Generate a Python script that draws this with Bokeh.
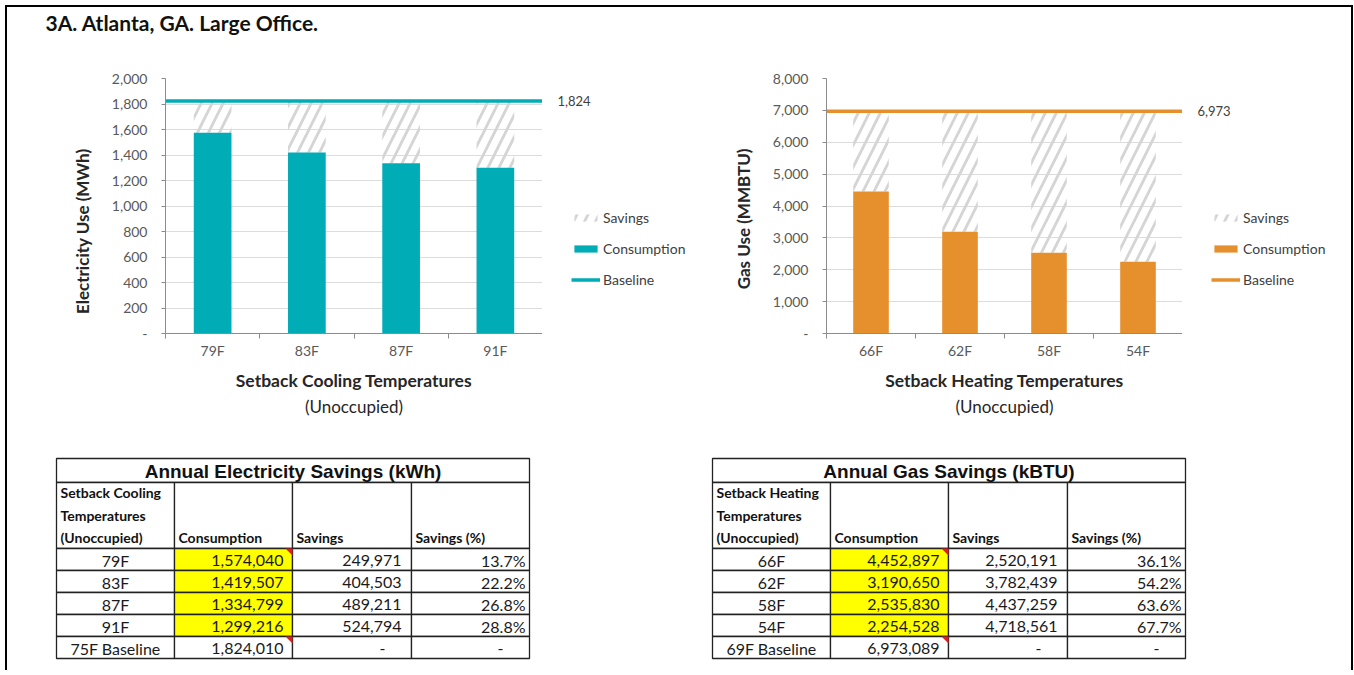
from bokeh.plotting import figure
from bokeh.models import (Range1d, FixedTicker, NumeralTickFormatter, Legend,
                          LegendItem, Spacer, Title)
from bokeh.layouts import column, row
from bokeh.embed import file_html
from bokeh.resources import INLINE
from bokeh.core.properties import value

# ---------------- data ----------------
page_title = "3A.  Atlanta, GA.  Large Office."

elec_temps = ["79F", "83F", "87F", "91F"]
elec_consumption_kwh = [1574040, 1419507, 1334799, 1299216]
elec_savings_kwh = [249971, 404503, 489211, 524794]
elec_savings_pct = [13.7, 22.2, 26.8, 28.8]
elec_baseline_name = "75F Baseline"
elec_baseline_kwh = 1824010
elec_y_ticks = [0, 200, 400, 600, 800, 1000, 1200, 1400, 1600, 1800, 2000]
elec_y_title = "Electricity Use (MWh)"
elec_x_title = "Setback Cooling Temperatures"
elec_table_title = "Annual Electricity Savings (kWh)"
elec_first_header = ["Setback Cooling", "Temperatures", "(Unoccupied)"]

gas_temps = ["66F", "62F", "58F", "54F"]
gas_consumption_kbtu = [4452897, 3190650, 2535830, 2254528]
gas_savings_kbtu = [2520191, 3782439, 4437259, 4718561]
gas_savings_pct = [36.1, 54.2, 63.6, 67.7]
gas_baseline_name = "69F Baseline"
gas_baseline_kbtu = 6973089
gas_y_ticks = [0, 1000, 2000, 3000, 4000, 5000, 6000, 7000, 8000]
gas_y_title = "Gas Use (MMBTU)"
gas_x_title = "Setback Heating Temperatures"
gas_table_title = "Annual Gas Savings (kBTU)"
gas_first_header = ["Setback Heating", "Temperatures", "(Unoccupied)"]

x_subtitle = "(Unoccupied)"
legend_labels = ["Savings", "Consumption", "Baseline"]
table_headers = ["Consumption", "Savings", "Savings (%)"]
comment_rows = [0, 4]

# ---------------- styles ----------------
TEAL = "#00ACB6"
ORANGE = "#E58F2D"
FONT = "Lato"
AXIS_GRAY = "#8C8C8C"
GRID_GRAY = "#DCDCDC"
TICK_TEXT = "#595959"
TITLE_TEXT = "#262626"
HATCH = dict(hatch_pattern="/", hatch_color="#D5D5D5", hatch_weight=2.8, hatch_scale=22)
CH_H, MB_TOP, MB_BOT = 360, 18, 87
NAN = float("nan")


def chart(cats, cons, sav, base, color, yticks, ytitle, xtitle, width, ml):
    n = len(cats)
    xs = list(range(1, n + 1))
    p = figure(width=width, height=CH_H, x_range=Range1d(0.5, n + 0.5),
               y_range=Range1d(yticks[0], yticks[-1]), output_backend="svg",
               toolbar_location=None, min_border_left=ml, min_border_right=0,
               min_border_top=MB_TOP, min_border_bottom=MB_BOT)
    p.outline_line_color = None
    p.xgrid.visible = False
    p.ygrid.ticker = FixedTicker(ticks=yticks)
    p.ygrid.grid_line_color = GRID_GRAY
    p.ygrid.grid_line_width = 1

    yax = p.yaxis[0]
    yax.ticker = FixedTicker(ticks=yticks)
    yax.formatter = NumeralTickFormatter(format="0,0")
    yax.major_label_overrides = {yticks[0]: "-"}
    yax.axis_line_color = AXIS_GRAY
    yax.major_tick_line_color = AXIS_GRAY
    yax.major_tick_out = 4
    yax.major_tick_in = 0
    yax.minor_tick_line_color = None
    yax.major_label_standoff = 14
    yax.major_label_text_font = FONT
    yax.major_label_text_font_size = "14px"
    yax.major_label_text_color = TICK_TEXT

    xax = p.xaxis[0]
    xax.ticker = FixedTicker(ticks=xs, minor_ticks=[x - 0.5 for x in xs] + [xs[-1] + 0.5])
    xax.major_label_overrides = {x: c for x, c in zip(xs, cats)}
    xax.major_tick_line_color = None
    xax.major_tick_out = 0
    xax.major_tick_in = 0
    xax.minor_tick_line_color = AXIS_GRAY
    xax.minor_tick_out = 5
    xax.minor_tick_in = 0
    xax.axis_line_color = AXIS_GRAY
    xax.major_label_standoff = 3
    xax.major_label_text_font = FONT
    xax.major_label_text_font_size = "14px"
    xax.major_label_text_color = TICK_TEXT
    xax.axis_label = xtitle
    xax.axis_label_standoff = 8
    xax.axis_label_text_font = FONT
    xax.axis_label_text_font_size = "17.5px"
    xax.axis_label_text_font_style = "bold"
    xax.axis_label_text_color = TITLE_TEXT

    p.add_layout(Title(text=x_subtitle, align="center", standoff=0, text_font=FONT,
                       text_font_size="17px", text_font_style="normal",
                       text_color=TITLE_TEXT), "below")
    p.add_layout(Title(text=ytitle, align="right", offset=70, standoff=32, text_font=FONT,
                       text_font_size="17px", text_font_style="bold",
                       text_color=TITLE_TEXT), "left")

    tops = [c + s for c, s in zip(cons, sav)]
    p.vbar(x=xs, bottom=cons, top=tops, width=0.4, fill_color=None, line_color=None, **HATCH)
    p.vbar(x=xs, bottom=0, top=cons, width=0.4, fill_color=color, line_color=None)
    p.line(x=[xs[0] - 0.5, xs[-1] + 0.5], y=[base, base], line_color=color, line_width=3.5)
    return p


def legend_panel(width, yr, color, base):
    lf = figure(width=width, height=CH_H, x_range=Range1d(0, width), y_range=yr,
                output_backend="svg", toolbar_location=None, min_border_left=0,
                min_border_right=0, min_border_top=MB_TOP, min_border_bottom=MB_BOT,
                x_axis_location=None, y_axis_location=None)
    lf.grid.visible = False
    lf.outline_line_color = None
    # legend proxies (no visible marks)
    r_sav = lf.vbar(x=[NAN], top=[NAN], width=1, fill_color=None, line_color=None, **HATCH)
    r_con = lf.vbar(x=[NAN], top=[NAN], width=1, fill_color=color, line_color=None)
    r_base = lf.line(x=[NAN], y=[NAN], line_color=color, line_width=3.5)
    lf.text(x=[15], y=[base], text=[f"{base:,.0f}"], text_font=value(FONT),
            text_font_size="13px", text_baseline="middle", text_color="#404040")
    leg = Legend(items=[LegendItem(label=legend_labels[0], renderers=[r_sav]),
                        LegendItem(label=legend_labels[1], renderers=[r_con]),
                        LegendItem(label=legend_labels[2], renderers=[r_base])],
                 location=(29, 44))
    leg.glyph_width = 29
    leg.glyph_height = 9
    leg.label_height = 20
    leg.label_standoff = 3
    leg.spacing = 11
    leg.padding = 0
    leg.margin = 0
    leg.border_line_color = None
    leg.background_fill_alpha = 0
    leg.label_text_font = FONT
    leg.label_text_font_size = "14px"
    leg.label_text_color = "#404040"
    lf.add_layout(leg)
    return lf


elec_base_mwh = elec_baseline_kwh / 1000
gas_base_mmbtu = gas_baseline_kbtu / 1000
left = chart(elec_temps, [v / 1000 for v in elec_consumption_kwh],
             [v / 1000 for v in elec_savings_kwh], elec_base_mwh, TEAL,
             elec_y_ticks, elec_y_title, elec_x_title, 535, 158)
left_leg = legend_panel(160, left.y_range, TEAL, elec_base_mwh)
right = chart(gas_temps, [v / 1000 for v in gas_consumption_kbtu],
              [v / 1000 for v in gas_savings_kbtu], gas_base_mmbtu, ORANGE,
              gas_y_ticks, gas_y_title, gas_x_title, 480, 124)
right_leg = legend_panel(169, right.y_range, ORANGE, gas_base_mmbtu)

# ---------------- title ----------------
W = 1344
TP_H = 53
tp = figure(width=W, height=TP_H, x_range=Range1d(0, W), y_range=Range1d(TP_H, 0),
            output_backend="svg", toolbar_location=None, min_border=0,
            x_axis_location=None, y_axis_location=None)
tp.grid.visible = False
tp.outline_line_color = None
tp.text(x=[38], y=[15], text=[page_title], text_font=value(FONT), text_font_size="21px",
        text_font_style="bold", text_baseline="middle", text_color="#111111")

# ---------------- tables ----------------
TH = 250
tb = figure(width=W, height=TH, x_range=Range1d(0, W), y_range=Range1d(TH, 0),
            output_backend="svg", toolbar_location=None, min_border=0,
            x_axis_location=None, y_axis_location=None)
tb.grid.visible = False
tb.outline_line_color = None

COL_W = [118, 118, 119, 118]
Y0, TITLE_H, HEAD_H, ROW_H = 38, 24, 66, 22
LINE = dict(line_color="#222222", line_width=1.3)


def table(x0, title, first_header, cats, cons, sav, pct, base_name, base_val):
    cx = [x0]
    for w in COL_W:
        cx.append(cx[-1] + w)
    tb.quad(left=[cx[0]], right=[cx[-1]], top=[Y0], bottom=[Y0 + TITLE_H],
            fill_color="white", **LINE)
    tb.text(x=[(cx[0] + cx[-1]) / 2], y=[Y0 + TITLE_H / 2 + 1], text=[title],
            text_font=value("Liberation Sans"), text_font_size="19px", text_font_style="bold",
            text_align="center", text_baseline="middle", text_color="#111111")
    hy = Y0 + TITLE_H
    tb.quad(left=cx[:-1], right=cx[1:], top=[hy] * 4, bottom=[hy + HEAD_H] * 4,
            fill_color="white", **LINE)
    head = dict(text_font=value(FONT), text_font_size="14px", text_font_style="bold",
                text_baseline="middle", text_color="#111111")
    tb.text(x=[cx[0] + 4] * len(first_header),
            y=[hy + 10 + 22.5 * i for i in range(len(first_header))],
            text=first_header, **head)
    tb.text(x=[c + 4 for c in cx[1:4]], y=[hy + 55] * 3, text=table_headers, **head)
    ry = hy + HEAD_H
    names = list(cats) + [base_name]
    cons_all = list(cons) + [base_val]
    nrows = len(names)
    lefts, rights, tops, bots, fills = [], [], [], [], []
    for i in range(nrows):
        for j in range(4):
            lefts.append(cx[j]); rights.append(cx[j + 1])
            tops.append(ry + i * ROW_H); bots.append(ry + (i + 1) * ROW_H)
            fills.append("#FFFF00" if (j == 1 and i < len(cats)) else "white")
    tb.quad(left=lefts, right=rights, top=tops, bottom=bots, fill_color=fills, **LINE)
    cy = [ry + i * ROW_H + ROW_H / 2 + 0.5 for i in range(nrows)]
    body = dict(text_font=value(FONT), text_font_size="16px", text_baseline="middle",
                text_color="#1A1A1A")
    tb.text(x=[(cx[0] + cx[1]) / 2] * nrows, y=cy, text=names, text_align="center", **body)
    tb.text(x=[cx[2] - 9] * nrows, y=cy, text=[f"{v:,}" for v in cons_all],
            text_align="right", **body)
    tb.text(x=[cx[3] - 10] * len(cats), y=cy[:len(cats)], text=[f"{v:,}" for v in sav],
            text_align="right", **body)
    tb.text(x=[cx[4] - 4] * len(cats), y=cy[:len(cats)], text=[f"{v:.1f}%" for v in pct],
            text_align="right", **body)
    tb.text(x=[cx[3] - 26, cx[4] - 26], y=[cy[-1]] * 2, text=["-", "-"], text_align="right",
            **body)
    tri_x = [[cx[2] - 7, cx[2], cx[2]] for _ in comment_rows]
    tri_y = [[ry + i * ROW_H, ry + i * ROW_H, ry + i * ROW_H + 7] for i in comment_rows]
    tb.patches(xs=tri_x, ys=tri_y, fill_color="#E02020", line_color=None)


table(49, elec_table_title, elec_first_header, elec_temps, elec_consumption_kwh,
      elec_savings_kwh, elec_savings_pct, elec_baseline_name, elec_baseline_kwh)
table(705, gas_table_title, gas_first_header, gas_temps, gas_consumption_kbtu,
      gas_savings_kbtu, gas_savings_pct, gas_baseline_name, gas_baseline_kbtu)

# ---------------- layout with frame ----------------
black = {"background-color": "black"}
IN_H = TP_H + CH_H + TH
inner = column(tp, row(left, left_leg, right, right_leg), tb)
page = column(
    Spacer(width=1353, height=5),
    row(Spacer(width=5, height=2), Spacer(width=1348, height=2, styles=black)),
    row(Spacer(width=5, height=IN_H), Spacer(width=2, height=IN_H, styles=black), inner,
        Spacer(width=2, height=IN_H, styles=black)),
)

open("out.html", "w").write(file_html(page, INLINE))
